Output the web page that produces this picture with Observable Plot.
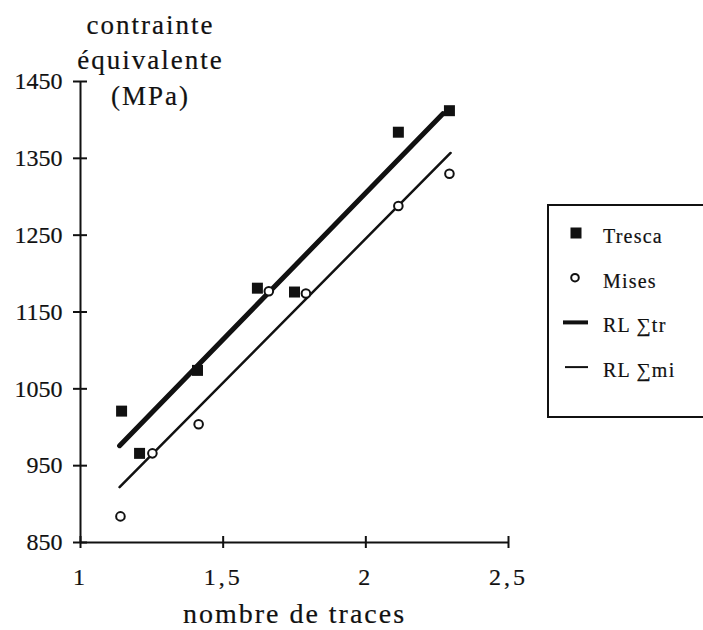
<!DOCTYPE html>
<html><head><meta charset="utf-8">
<script src="https://cdn.jsdelivr.net/npm/d3@7"></script>
<script src="https://cdn.jsdelivr.net/npm/@observablehq/plot@0.6"></script>
<style>
html,body{margin:0;padding:0;background:#fff;overflow:hidden}
#wrap{position:relative;width:703px;height:630px;overflow:hidden;background:#fff}
#wrap svg{display:block}
#legend{position:absolute;left:547px;top:204px}
#wrap svg text{stroke:#111;stroke-width:0.2px}
g[aria-label="x-axis tick label"] text{letter-spacing:3px}
</style></head><body><div id="wrap"></div>
<script>
// Data
const trescaX = [1.144, 1.207, 1.41, 1.62, 1.75, 2.114, 2.293];
const trescaY = [1021, 966, 1074, 1181, 1176, 1384, 1412];
const misesX = [1.14, 1.252, 1.414, 1.66, 1.79, 2.114, 2.293];
const misesY = [884, 966, 1004, 1177, 1174, 1288, 1330];
// regression lines (end points as drawn)
const rlTrX = [1.137, 2.27];
const rlTrY = [976, 1408];
const rlMiX = [1.137, 2.297];
const rlMiY = [922, 1357];
const xTicks = [1, 1.5, 2, 2.5];
const yTicks = [850, 950, 1050, 1150, 1250, 1350, 1450];
const yLabelLines = ["contrainte", "équivalente", "(MPa)"];
const xLabel = "nombre de traces";
const legendLabels = ["Tresca", "Mises", "RL \u2211tr", "RL \u2211mi"];
const legendKinds = ["square", "circle", "thick", "thin"];

const ink = "#111";
const tresca = trescaX.map((x, i) => ({x, y: trescaY[i]}));
const mises = misesX.map((x, i) => ({x, y: misesY[i]}));
const rlTr = rlTrX.map((x, i) => ({x, y: rlTrY[i]}));
const rlMi = rlMiX.map((x, i) => ({x, y: rlMiY[i]}));
const fmt = d => String(d).replace(".", ",");

const chart = Plot.plot({
  width: 703,
  height: 630,
  marginLeft: 80,
  marginRight: 195,
  marginTop: 81,
  marginBottom: 88,
  style: {fontFamily: "'Liberation Serif', 'Times New Roman', serif", color: ink, background: "#fff"},
  x: {domain: [1, 2.5], nice: false},
  y: {domain: [850, 1450], nice: false},
  marks: [
    Plot.ruleX([1], {stroke: ink, strokeWidth: 2}),
    Plot.ruleY([850], {stroke: ink, strokeWidth: 2}),
    Plot.axisY({ticks: yTicks, tickSize: 14, dx: 7, tickPadding: 11, fontSize: 24, strokeWidth: 2, stroke: ink, label: null, tickFormat: d => String(d)}),
    Plot.axisX({ticks: xTicks, tickSize: 12, dy: -6, tickPadding: 19, fontSize: 24, strokeWidth: 2, stroke: ink, label: null, tickFormat: fmt}),
    Plot.line(rlTr, {x: "x", y: "y", stroke: ink, strokeWidth: 5, strokeLinecap: "round"}),
    Plot.line(rlMi, {x: "x", y: "y", stroke: ink, strokeWidth: 2.5, strokeLinecap: "round"}),
    Plot.dot(tresca, {x: "x", y: "y", symbol: "square", r: 6.2, fill: ink, stroke: "none"}),
    Plot.dot(mises, {x: "x", y: "y", symbol: "circle", r: 4.3, fill: "#fff", stroke: ink, strokeWidth: 2}),
    Plot.text([yLabelLines.join("\n")], {frameAnchor: "top-left", dx: 70, dy: -72.5, textAnchor: "middle", lineAnchor: "top", lineHeight: 1.31, fontSize: 27, fill: ink}),
    Plot.text([xLabel], {frameAnchor: "bottom", dy: 71.4, lineAnchor: "middle", fontSize: 28, fill: ink})
  ]
});
d3.select(chart).selectAll('g[aria-label="text"] text').style("letter-spacing", "2px");
document.getElementById("wrap").appendChild(chart);

// Legend
const leg = d3.select("#wrap").append("svg").attr("id", "legend")
  .attr("width", 160).attr("height", 216)
  .style("font-family", "'Liberation Serif', 'Times New Roman', serif");
leg.append("rect").attr("x", 1).attr("y", 1).attr("width", 200).attr("height", 212)
  .attr("fill", "#fff").attr("stroke", ink).attr("stroke-width", 2);
const rowY = i => 29 + i * 44.7;
legendKinds.forEach((k, i) => {
  const cy = rowY(i);
  if (k === "square") leg.append("rect").attr("x", 23.5).attr("y", cy - 5.5).attr("width", 11).attr("height", 11).attr("fill", ink);
  else if (k === "circle") leg.append("circle").attr("cx", 28).attr("cy", cy).attr("r", 3.8).attr("fill", "#fff").attr("stroke", ink).attr("stroke-width", 2);
  else leg.append("line").attr("x1", k === "thick" ? 16 : 18).attr("x2", 41).attr("y1", cy).attr("y2", cy)
    .attr("stroke", ink).attr("stroke-width", k === "thick" ? 4 : 2);
  leg.append("text").attr("x", 56).attr("y", cy + 10).attr("font-size", 20).attr("fill", ink)
    .style("letter-spacing", "1.2px").text(legendLabels[i]);
});
</script>
</body></html>
